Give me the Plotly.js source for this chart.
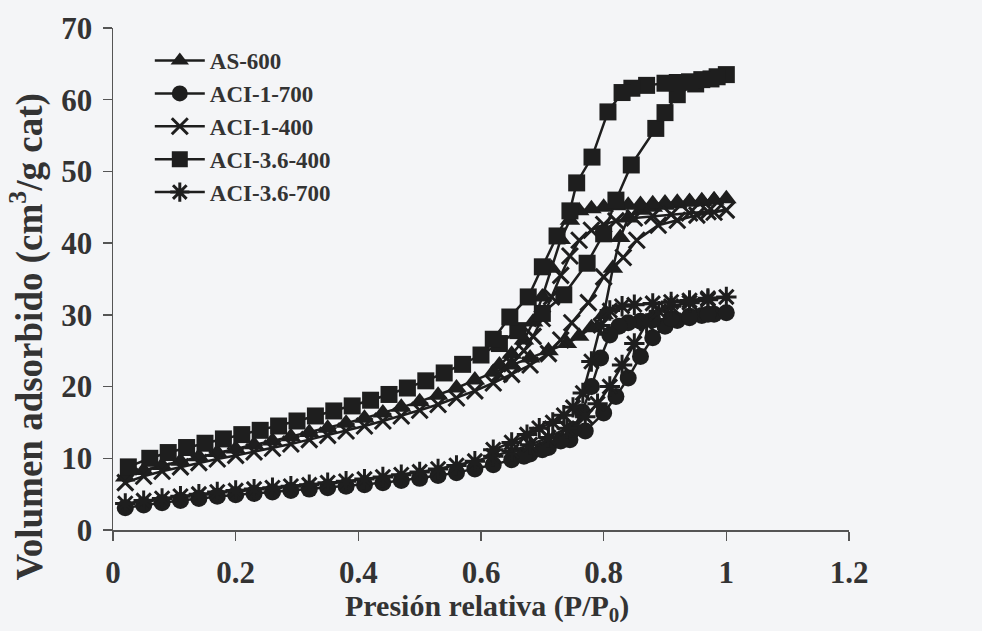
<!DOCTYPE html>
<html>
<head>
<meta charset="utf-8">
<script src="https://cdn.plot.ly/plotly-3.0.1.min.js"></script>
<style>html,body{margin:0;padding:0;background:#f4f5f7;}#chart{width:982px;height:631px;}</style>
</head>
<body>
<div id="chart"></div>
<script>
// ---- Data ----
var seriesNames = ['AS-600', 'ACI-1-700', 'ACI-1-400', 'ACI-3.6-400', 'ACI-3.6-700'];

var xTickVals = [0, 0.2, 0.4, 0.6, 0.8, 1, 1.2];
var xTickText = ['0', '0.2', '0.4', '0.6', '0.8', '1', '1.2'];
var yTickVals = [0, 10, 20, 30, 40, 50, 60, 70];

// AS-600 (adsorption then desorption)
var as600_x = [0.02,0.05,0.08,0.11,0.14,0.17,0.20,0.23,0.26,0.29,0.32,0.35,0.38,0.41,0.44,0.47,0.50,0.53,0.56,0.59,0.62,0.65,0.68,0.71,0.74,0.76,0.78,0.80,0.815,0.827,0.84,0.86,0.88,0.90,0.92,0.94,0.96,0.98,1.0,
               0.98,0.96,0.94,0.92,0.90,0.88,0.86,0.84,0.82,0.80,0.78,0.76,0.745,0.73,0.715,0.70,0.685,0.67,0.65,0.63];
var as600_y = [7.4,8.3,9.0,9.6,10.2,10.8,11.3,11.9,12.4,13.0,13.6,14.2,14.9,15.6,16.3,17.1,17.9,18.8,19.8,20.9,22.0,23.0,24.0,25.0,26.0,27.0,28.2,30.0,36.5,40.8,43.5,44.6,45.0,45.3,45.5,45.7,45.8,46.0,46.2,
               46.0,45.9,45.8,45.7,45.6,45.5,45.4,45.3,45.2,45.0,44.8,44.5,43.2,40.5,36.5,32.5,29.0,26.5,24.5,23.0];

// ACI-1-700
var aci1_700_x = [0.02,0.05,0.08,0.11,0.14,0.17,0.20,0.23,0.26,0.29,0.32,0.35,0.38,0.41,0.44,0.47,0.50,0.53,0.56,0.59,0.62,0.65,0.68,0.71,0.745,0.77,0.80,0.82,0.84,0.86,0.88,0.90,0.92,0.94,0.96,0.98,1.0,
                  0.97,0.94,0.91,0.88,0.86,0.84,0.825,0.81,0.795,0.78,0.765,0.75,0.73,0.70,0.67];
var aci1_700_y = [3.1,3.5,3.8,4.1,4.4,4.7,4.9,5.1,5.3,5.5,5.7,5.9,6.1,6.3,6.6,6.9,7.2,7.6,8.0,8.5,9.1,9.8,10.6,11.5,12.6,13.8,16.3,18.6,21.2,24.2,26.8,28.4,29.2,29.6,29.9,30.1,30.3,
                  30.1,29.8,29.5,29.3,29.1,28.9,28.4,27.2,24.0,20.0,16.5,14.0,12.4,11.2,10.3];

// ACI-1-400
var aci1_400_x = [0.02,0.05,0.08,0.11,0.14,0.17,0.20,0.23,0.26,0.29,0.32,0.35,0.38,0.41,0.44,0.47,0.50,0.53,0.56,0.59,0.62,0.65,0.68,0.71,0.73,0.748,0.775,0.80,0.832,0.854,0.889,0.92,0.952,0.98,1.0,
                  0.97,0.94,0.91,0.88,0.85,0.82,0.80,0.78,0.76,0.745,0.73,0.715,0.70,0.685,0.67,0.65,0.63];
var aci1_400_y = [6.6,7.5,8.2,8.8,9.4,9.9,10.4,10.9,11.4,12.0,12.6,13.2,13.8,14.5,15.2,15.9,16.7,17.5,18.4,19.4,20.5,21.7,23.0,24.6,26.5,28.9,31.7,35.3,38.0,40.4,42.5,43.2,43.9,44.3,44.6,
                  44.4,44.2,44.0,43.8,43.5,43.1,42.6,41.8,40.4,38.2,35.5,32.5,29.5,27.0,25.0,23.2,21.8];

// ACI-3.6-400
var aci36_400_x = [0.025,0.06,0.09,0.12,0.15,0.18,0.21,0.24,0.27,0.30,0.33,0.36,0.39,0.42,0.45,0.48,0.51,0.54,0.57,0.60,0.63,0.66,0.70,0.735,0.773,0.80,0.82,0.845,0.885,0.90,0.92,0.95,0.975,1.0,
                   0.985,0.96,0.94,0.92,0.90,0.87,0.846,0.83,0.807,0.781,0.756,0.745,0.724,0.70,0.677,0.647,0.62];
var aci36_400_y = [8.8,10.0,10.8,11.5,12.1,12.7,13.3,13.9,14.5,15.2,15.9,16.6,17.3,18.1,18.9,19.8,20.8,21.9,23.1,24.4,26.0,27.8,30.2,32.8,37.2,41.3,46.0,50.9,56.0,58.2,60.7,62.2,62.9,63.5,
                   63.2,62.8,62.5,62.4,62.3,62.0,61.6,61.0,58.3,52.0,48.4,44.5,41.0,36.7,32.5,29.7,26.6];

// ACI-3.6-700
var aci36_700_x = [0.02,0.05,0.08,0.11,0.14,0.17,0.20,0.23,0.26,0.29,0.32,0.35,0.38,0.41,0.44,0.47,0.50,0.53,0.56,0.59,0.62,0.65,0.68,0.71,0.74,0.77,0.79,0.81,0.83,0.85,0.87,0.89,0.91,0.94,0.97,1.0,
                   0.97,0.94,0.91,0.88,0.85,0.83,0.81,0.795,0.78,0.766,0.75,0.735,0.717,0.695,0.675,0.65,0.62];
var aci36_700_y = [3.7,4.1,4.4,4.7,5.0,5.3,5.5,5.7,5.9,6.1,6.3,6.6,6.8,7.1,7.4,7.7,8.1,8.5,9.0,9.6,10.3,11.0,11.9,12.9,14.2,15.8,17.6,20.0,23.0,26.0,28.8,30.5,31.2,31.7,32.1,32.5,
                   32.3,32.0,31.8,31.6,31.4,31.2,30.6,28.5,23.5,19.1,17.1,16.0,15.0,14.2,13.3,12.2,11.2];

// ---- Styling ----
var ink = '#1e1e1e';
var serif = 'Liberation Serif, Times New Roman, serif';

function trace(name, xs, ys, symbol, size, lw) {
  return {
    type: 'scatter', mode: 'lines+markers', name: name, x: xs, y: ys,
    line: {color: ink, width: 2.5},
    marker: {symbol: symbol, size: size, color: ink, line: {color: ink, width: lw}}
  };
}

var data = [
  trace(seriesNames[0], as600_x, as600_y, 'triangle-up', 18, 0),
  trace(seriesNames[1], aci1_700_x, aci1_700_y, 'circle', 17, 0),
  trace(seriesNames[2], aci1_400_x, aci1_400_y, 'x-thin-open', 16, 3),
  trace(seriesNames[3], aci36_400_x, aci36_400_y, 'square', 17, 0),
  trace(seriesNames[4], aci36_700_x, aci36_700_y, 'asterisk-open', 17, 3)
];

var tickFont = {family: serif, size: 31, color: '#333', weight: 'bold'};

var layout = {
  width: 982, height: 631,
  margin: {l: 113, r: 133, t: 28, b: 101, pad: 0},
  paper_bgcolor: '#f4f5f7', plot_bgcolor: 'rgba(0,0,0,0)',
  showlegend: true,
  legend: {
    x: 0.05, y: 0.978, xanchor: 'left', yanchor: 'top',
    bgcolor: 'rgba(0,0,0,0)', borderwidth: 0,
    font: {family: serif, size: 23, color: '#333', weight: 'bold'},
    itemwidth: 50,
    tracegroupgap: 0
  },
  xaxis: {
    range: [0, 1.2], tickmode: 'array', tickvals: xTickVals, ticktext: xTickText,
    showline: true, linecolor: '#555', linewidth: 1.5,
    ticks: 'outside', ticklen: 9, tickwidth: 1.5, tickcolor: '#555',
    showgrid: false, zeroline: false, tickfont: tickFont, ticklabelstandoff: 5
  },
  yaxis: {
    range: [0, 70], tickmode: 'array', tickvals: yTickVals,
    showline: true, linecolor: '#555', linewidth: 1.5,
    ticks: 'outside', ticklen: 9, tickwidth: 1.5, tickcolor: '#555',
    showgrid: false, zeroline: false, tickfont: tickFont, ticklabelstandoff: 4
  },
  annotations: [
    {text: 'Presión relativa (P/P<sub>0</sub>)', xref: 'paper', yref: 'paper',
     x: 0.508, y: -0.156, xanchor: 'center', yanchor: 'middle', showarrow: false,
     font: {family: serif, size: 30, color: '#333', weight: 'bold'}},
    {text: 'Volumen adsorbido (cm<sup>3</sup>/g cat)', xref: 'paper', yref: 'paper',
     x: -0.117, y: 0.385, xanchor: 'center', yanchor: 'middle', textangle: -90, showarrow: false,
     font: {family: serif, size: 37, color: '#333', weight: 'bold'}}
  ]
};

Plotly.newPlot('chart', data, layout, {displayModeBar: false, staticPlot: true});
</script>
</body>
</html>
